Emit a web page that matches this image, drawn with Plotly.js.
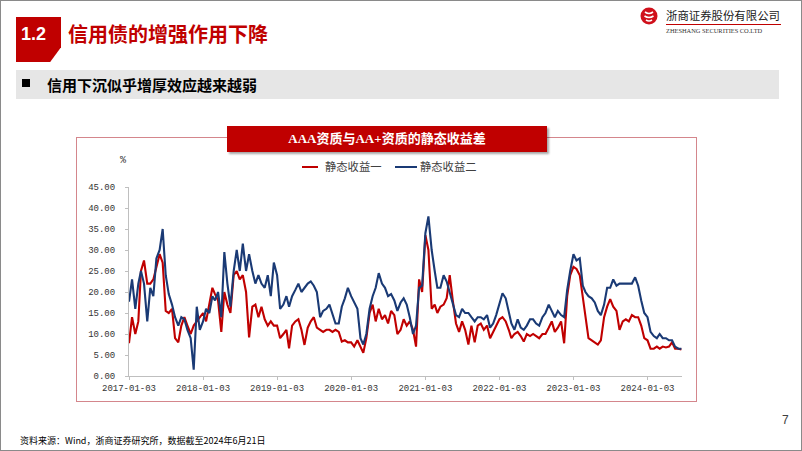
<!DOCTYPE html>
<html><head><meta charset="utf-8">
<script src="https://cdn.plot.ly/plotly-3.0.1.min.js"></script>
<style>
html,body{margin:0;padding:0;}
body{width:802px;height:451px;position:relative;overflow:hidden;background:#fff;font-family:"Noto Sans CJK SC",sans-serif;}
.abs{position:absolute;white-space:nowrap;}
#frame{left:0;top:0;width:802px;height:451px;box-sizing:border-box;border:1px solid #8a8a8a;}
#numblock{left:16px;top:17px;width:45px;height:45px;background:#c00000;clip-path:polygon(0 0,100% 0,100% 67%,76% 100%,0 100%);}
#num{left:21px;top:23px;font:bold 18px "Liberation Sans",Arial,sans-serif;color:#fff;line-height:22px;}
#title{left:68px;top:20px;font-size:20px;font-weight:700;color:#c00000;line-height:28px;}
#bar{left:16px;top:70px;width:763px;height:29px;background:#e6e6e6;}
#bullet{left:22px;top:79px;width:8px;height:8px;background:#000;}
#sub{left:47px;top:70px;font-size:15px;font-weight:700;color:#000;line-height:29px;}
#logo{left:640px;top:7px;}
#comp{left:666px;top:8px;font-size:11.4px;color:#1a1a1a;line-height:14px;}
#compline{left:666px;top:24px;width:115px;height:1px;background:#c00000;}
#eng{left:666px;top:27px;font:6.4px "Liberation Serif",serif;color:#333;line-height:8px;}
#box{left:76px;top:137px;width:621px;height:265px;box-sizing:border-box;border:1.5px solid #d4868c;}
#ctitle{left:227px;top:126px;width:320px;height:26px;background:#c00000;box-shadow:2px 2px 2px rgba(0,0,0,0.35);color:#fff;text-align:center;font:bold 13px "Liberation Serif","Noto Sans CJK SC",serif;line-height:26px;}
#pct{left:120px;top:155px;font:10px "Liberation Mono",monospace;color:#333;}
.lgline{height:2px;top:166px;}
.lgtxt{top:159px;font-size:11.3px;color:#404040;line-height:15px;}
#foot{left:20px;top:435px;font-size:9px;color:#000;line-height:12px;}
#page{left:782px;top:413px;font:12px "Liberation Sans",Arial,sans-serif;color:#404040;}
#plot{left:0;top:0;width:802px;height:451px;}
</style></head>
<body>
<div id="frame" class="abs"></div>
<div id="numblock" class="abs"></div>
<div id="num" class="abs">1.2</div>
<div id="title" class="abs">信用债的增强作用下降</div>
<div id="bar" class="abs"></div>
<div id="bullet" class="abs"></div>
<div id="sub" class="abs">信用下沉似乎增厚效应越来越弱</div>
<svg id="logo" class="abs" width="18" height="18" viewBox="0 0 18 18">
<circle cx="9" cy="9" r="8.5" fill="#d0101b"/>
<path d="M5 5 Q9 8 13 5 M4.5 9 Q9 12 13.5 9 M6 13 Q9 15 12 13" stroke="#fff" stroke-width="1.6" fill="none"/>
</svg>
<div id="comp" class="abs">浙商证券股份有限公司</div>
<div id="compline" class="abs"></div>
<div id="eng" class="abs">ZHESHANG SECURITIES CO.LTD</div>
<div id="box" class="abs"></div>
<div id="ctitle" class="abs">AAA资质与AA+资质的静态收益差</div>
<div id="pct" class="abs">%</div>
<div class="abs lgline" style="left:302px;width:16px;background:#c00000;"></div>
<div class="abs lgtxt" style="left:325px;">静态收益一</div>
<div class="abs lgline" style="left:395px;width:22px;background:#1a3a75;"></div>
<div class="abs lgtxt" style="left:420px;">静态收益二</div>
<div id="foot" class="abs">资料来源：Wind，浙商证券研究所，数据截至2024年6月21日</div>
<div id="page" class="abs">7</div>
<div id="plot" class="abs"></div>
<script>
// semi-monthly readings (3rd and 18th of each month)
const red2017 = [7.8, 14, 10, 13, 25, 27.5, 22, 22, 23, 26, 29, 27, 15.5, 15, 16, 9, 8, 12, 14, 12, 10, 12, 13, 14];
const blue2017 = [17.7, 23, 16, 22, 25, 22, 13, 21, 19, 28, 30, 35, 24, 19.5, 17, 14, 12, 14, 13.5, 11, 9, 1.5, 16.5, 11];
const red2018 = [15, 13, 17, 21, 19.5, 18, 10.5, 20, 17, 15, 24, 25, 23, 24, 20, 9.2, 16.5, 17, 14, 16.5, 13.5, 12, 13, 12];
const blue2018 = [13, 16, 15, 19, 18, 20, 14, 29.5, 22, 16.5, 25, 30, 25, 31.5, 25, 29, 25, 22, 24, 22, 21, 24, 19, 27];
const red2019 = [12, 9, 10, 11, 6.6, 12, 13, 13.5, 11, 7.4, 11.5, 13, 14, 11.5, 11, 10.5, 11, 11, 10.5, 11, 10.5, 8.2, 8.5, 8];
const blue2019 = [24, 16, 17, 19, 16.5, 19, 20.5, 22, 20, 21, 22, 22.5, 21.5, 20, 14, 15.5, 16, 17, 15, 12.5, 12.5, 16.5, 18.5, 21];
const red2020 = [8, 7, 8.5, 7, 5.5, 9, 15, 17, 13, 16, 13.5, 14.5, 12.5, 15.5, 14.5, 10, 11, 13.5, 12, 13, 11, 7, 23, 20];
const blue2020 = [19, 17.5, 16, 9, 7.5, 10, 16, 19, 21, 24.5, 22, 21, 19, 19.5, 18, 15.5, 17.5, 18.5, 17, 14, 10, 12, 21, 21.5];
const red2021 = [33.5, 30, 16, 17, 15, 16.5, 17, 18.5, 24, 18, 12.5, 10.5, 13, 11, 7.5, 12, 8, 12, 12.5, 11, 12, 9, 10.5, 12];
const blue2021 = [34, 38, 30, 25, 21, 21, 24, 22.5, 20, 17, 14.5, 14, 16, 15, 15, 14, 13, 14, 14, 13.5, 14.5, 11.5, 12.5, 14.5];
const red2022 = [13.5, 14, 13, 11, 9, 10, 10.5, 9.5, 8.2, 10, 9.5, 10, 9.5, 9, 10, 10, 11.5, 13, 10.5, 11.5, 13, 7.8, 19, 24];
const blue2022 = [17.5, 19.7, 18.5, 15, 12.5, 11, 13.5, 11.5, 11, 12, 13.5, 13.5, 12.5, 12, 14, 15, 17, 15.5, 14, 15.5, 14.5, 14, 20.5, 25];
const red2023 = [26, 25.5, 24, 18.5, 14, 9, 8.5, 8, 7.5, 8.5, 14, 16.5, 18.3, 16.5, 15.5, 11, 13, 13.5, 13, 14.5, 14, 14, 12, 9];
const blue2023 = [29, 27.5, 28, 21.5, 20, 19, 18.5, 17.5, 15.5, 14.5, 17, 21, 21, 23, 21.5, 22, 22, 22, 22, 22, 23.5, 21.5, 18, 15];
const red2024 = [8.5, 6.5, 6.5, 7, 6.5, 7, 6.8, 7, 8, 6.5, 6.5, 6.3];
const blue2024 = [14, 10.5, 9.5, 9, 10, 9, 9, 8.5, 8.5, 7, 6.5, 6.5];

const years = [2017, 2018, 2019, 2020, 2021, 2022, 2023, 2024];
const redByYear = [red2017, red2018, red2019, red2020, red2021, red2022, red2023, red2024];
const blueByYear = [blue2017, blue2018, blue2019, blue2020, blue2021, blue2022, blue2023, blue2024];
const sampleDays = ['03', '18'];

const xTicks = ['2017-01-03','2018-01-03','2019-01-03','2020-01-03','2021-01-03','2022-01-03','2023-01-03','2024-01-03'];
const yTicks = [0,5,10,15,20,25,30,35,40,45];
const yTickLabels = ['0.00','5.00','10.00','15.00','20.00','25.00','30.00','35.00','40.00','45.00'];
const seriesNames = ['静态收益一','静态收益二'];

function datesFor(year, n) {
  const out = [];
  for (let k = 0; k < n; k++) {
    const m = Math.floor(k / 2) + 1;
    out.push(year + '-' + String(m).padStart(2, '0') + '-' + sampleDays[k % 2]);
  }
  return out;
}
let dates = [], red = [], blue = [];
years.forEach((y, i) => {
  dates = dates.concat(datesFor(y, redByYear[i].length));
  red = red.concat(redByYear[i]);
  blue = blue.concat(blueByYear[i]);
});

const axFont = {family: 'Liberation Mono, monospace', size: 9, color: '#333'};
Plotly.newPlot('plot', [
  {x: dates, y: red, name: seriesNames[0], type: 'scatter', mode: 'lines', line: {color: '#c00000', width: 2.1}},
  {x: dates, y: blue, name: seriesNames[1], type: 'scatter', mode: 'lines', line: {color: '#1a3a75', width: 2.1}}
], {
  width: 802, height: 451,
  margin: {l: 129, r: 120, t: 187, b: 75, pad: 0},
  paper_bgcolor: 'rgba(0,0,0,0)', plot_bgcolor: 'rgba(0,0,0,0)',
  showlegend: false,
  xaxis: {type: 'date', range: ['2017-01-03', '2024-06-21'], tickmode: 'array', tickvals: xTicks, ticktext: xTicks,
    showline: true, linecolor: '#bfbfbf', linewidth: 1, ticks: 'outside', ticklen: 3, tickcolor: '#bfbfbf',
    showgrid: false, zeroline: false, tickfont: axFont, fixedrange: true},
  yaxis: {range: [0, 45], tickmode: 'array', tickvals: yTicks, ticktext: yTickLabels,
    showline: true, linecolor: '#bfbfbf', linewidth: 1, ticks: 'outside', ticklen: 3, tickcolor: '#bfbfbf',
    showgrid: false, zeroline: false, tickfont: axFont, ticklabelstandoff: 8, fixedrange: true}
}, {displayModeBar: false, staticPlot: true});
</script>
</body></html>
